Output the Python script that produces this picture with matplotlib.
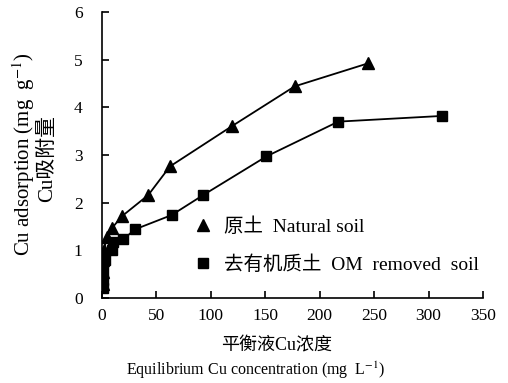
import matplotlib
matplotlib.use("Agg")
from matplotlib import pyplot as plt
from matplotlib.lines import Line2D

plt.rcParams['font.family'] = ['Liberation Serif', 'Noto Sans CJK SC']
plt.rcParams['mathtext.fontset'] = 'stix'

# natural soil (triangles)
nat_x = [0.5, 0.8, 1.2, 1.8, 4.3, 9, 18, 42.5, 62.4, 119, 177, 244]
nat_y = [0.30, 0.55, 0.80, 1.00, 1.29, 1.46, 1.71, 2.16, 2.76, 3.60, 4.44, 4.92]

# OM removed soil (squares)
om_x = [0.8, 1.0, 1.2, 3.0, 9.0, 10.4, 19.5, 30.3, 64, 93, 151, 217, 312.6]
om_y = [0.20, 0.37, 0.59, 0.80, 1.00, 1.18, 1.23, 1.44, 1.74, 2.16, 2.97, 3.70, 3.82]

xticks = [0, 50, 100, 150, 200, 250, 300, 350]
yticks = [0, 1, 2, 3, 4, 5, 6]

fig = plt.figure(figsize=(5.08, 3.83), dpi=100)
ax = fig.add_axes([0.2008, 0.2219, 0.75, 0.7468])

ax.plot(nat_x, nat_y, color='black', lw=1.3, marker='^', ms=9, mec='black', mfc='black')
ax.plot(om_x, om_y, color='black', lw=1.3, marker='s', ms=7.5, mec='black', mfc='black')

ax.set_xlim(0, 350)
ax.set_ylim(0, 6)
ax.set_xticks(xticks)
ax.set_yticks(yticks)
ax.spines['top'].set_visible(False)
ax.spines['right'].set_visible(False)
for s in ['left', 'bottom']:
    ax.spines[s].set_linewidth(1.2)
ax.tick_params(direction='in', length=5, width=1.2, labelsize=12.5)
ax.tick_params(axis='y', pad=14)
ax.tick_params(axis='x', pad=7)

handles = [Line2D([], [], ls='none', marker='^', ms=9, color='black'),
           Line2D([], [], ls='none', marker='s', ms=7.5, color='black')]
labels = ['原土  Natural soil', '去有机质土  OM  removed  soil']
ax.legend(handles, labels, loc='center left', bbox_to_anchor=(0.197, 0.182),
          frameon=False, fontsize=14, labelspacing=1.0, handletextpad=0.6,
          handlelength=0.9, borderpad=0.4)

fig.text(0.544, 0.097, '平衡液Cu浓度', ha='center', va='center', fontsize=13)
fig.text(0.504, 0.034, 'Equilibrium Cu concentration (mg  L$^{-1}$)', ha='center',
         va='center', fontsize=11.5)
fig.text(0.047, 0.598, 'Cu adsorption (mg  g$^{-1}$)', rotation=90, ha='center',
         va='center', fontsize=15)
fig.text(0.094, 0.585, 'Cu吸附量', rotation=90, ha='center', va='center', fontsize=15)

fig.savefig('out.png', dpi=100)
